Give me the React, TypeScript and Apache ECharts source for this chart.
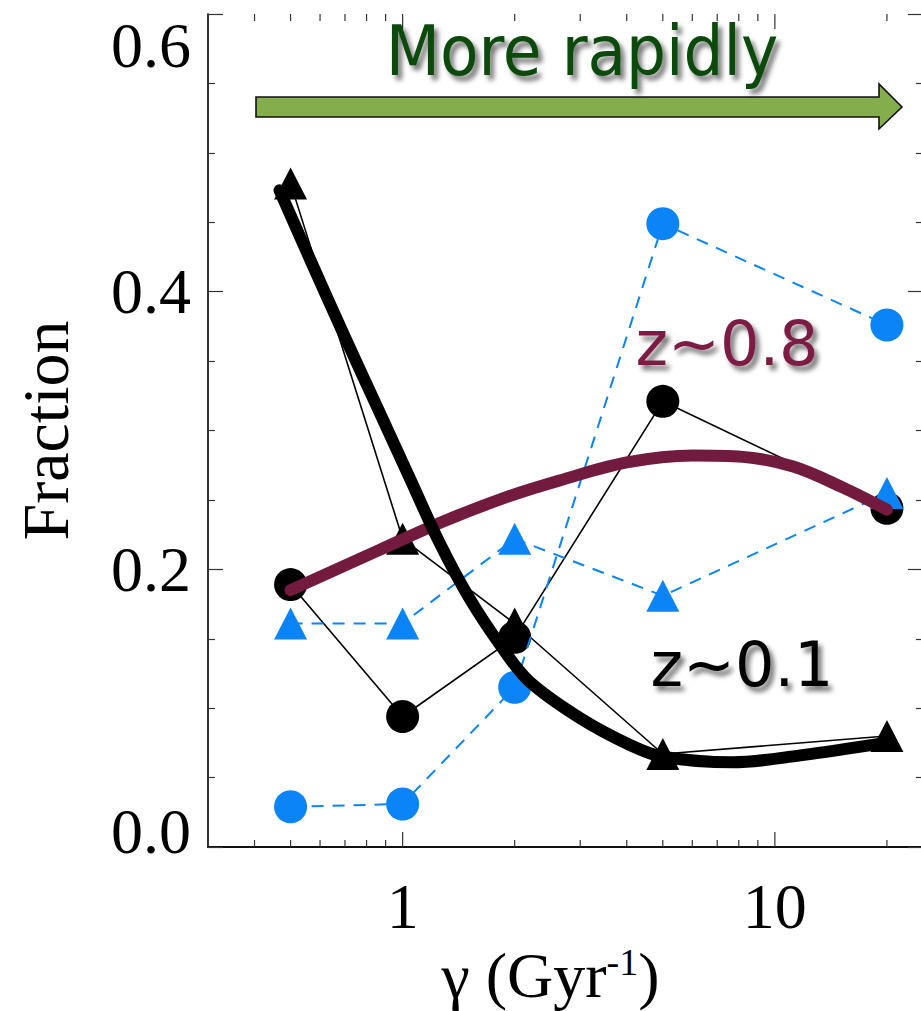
import React, { useEffect, useRef } from 'react';
import * as echarts from 'echarts';

// ---- data ----
const gamma = [0.5, 1, 2, 5, 20];
const blackCircles = [0.189, 0.094, 0.151, 0.321, 0.244];
const blackTriangles = [0.478, 0.222, 0.161, 0.067, 0.080];
const blueCircles = [0.029, 0.031, 0.115, 0.449, 0.376];
const blueTriangles = [0.161, 0.161, 0.222, 0.181, 0.255];

const lowZCurveGamma = [0.467, 0.569, 0.698, 0.857, 1.044, 1.257, 1.513, 1.857, 2.194, 2.99, 4.08, 5.0, 7.7, 11.7, 19.8];
const lowZCurveFrac = [0.473, 0.421, 0.368, 0.316, 0.266, 0.219, 0.179, 0.143, 0.119, 0.093, 0.0735, 0.065, 0.061, 0.066, 0.075];

const highZCurveGamma = [0.5, 0.867, 1.3, 1.9, 2.64, 4.0, 6.02, 8.2, 11.2, 15.2, 20];
const highZCurveFrac = [0.185, 0.214, 0.235, 0.252, 0.264, 0.277, 0.282, 0.281, 0.274, 0.259, 0.243];

const xTickValues = [0.4, 0.5, 0.6, 0.7, 0.8, 0.9, 1, 2, 3, 4, 5, 6, 7, 8, 9, 10, 20];
const xMajorTicks = [1, 10];
const xTickLabels = ['1', '10'];
const yTickLabels = ['0.0', '0.2', '0.4', '0.6'];

const X_MIN = 0.3;
const X_MAX = 25;
const Y_MIN = 0;
const Y_MAX = 0.6;

const SERIF = '"Liberation Serif", "Times New Roman", serif';
const SANS = '"DejaVu Sans", Verdana, sans-serif';

export default function App() {
  const ref = useRef<HTMLDivElement>(null);

  useEffect(() => {
    if (!ref.current) return;
    const chart = echarts.init(ref.current, null, { renderer: 'svg' });

    const pairs = (xs: number[], ys: number[]) => xs.map((x, i) => [x, ys[i]]);

    const tickColor = '#333';
    const axisLineStyle = { color: '#000', width: 1.6 };
    const shadow = {
      textShadowColor: 'rgba(0,0,0,0.55)',
      textShadowBlur: 5,
      textShadowOffsetX: 4,
      textShadowOffsetY: 5,
    };

    const option: any = {
      animation: false,
      backgroundColor: '#fff',
      grid: {
        left: 208,
        top: 14,
        width: 715,
        height: 833,
        containLabel: false,
        outerBoundsMode: 'none',
      },
      xAxis: [
        {
          type: 'log',
          logBase: 10,
          min: X_MIN,
          max: X_MAX,
          position: 'bottom',
          axisLine: { show: true, lineStyle: axisLineStyle },
          axisTick: { show: false },
          splitLine: { show: false },
          axisLabel: {
            show: true,
            margin: 27,
            fontSize: 64,
            fontFamily: SERIF,
            color: '#000',
            showMinLabel: false,
            showMaxLabel: false,
            formatter: (v: number) => {
              const i = xMajorTicks.findIndex((m) => Math.abs(m - v) / m < 1e-6);
              return i >= 0 ? xTickLabels[i] : '';
            },
          },
          name: '{g|γ (Gyr}{s|-1}{g|)}',
          nameLocation: 'middle',
          nameGap: 96,
          nameTextStyle: {
            padding: [0, 30, 0, 0],
            rich: {
              g: { fontSize: 64, fontFamily: SERIF, color: '#000' },
              s: { fontSize: 38, fontFamily: SERIF, color: '#000', verticalAlign: 'top', lineHeight: 38 },
            },
          },
        },
        {
          type: 'log',
          logBase: 10,
          min: X_MIN,
          max: X_MAX,
          position: 'top',
          axisLine: { show: true, lineStyle: axisLineStyle },
          axisTick: { show: false },
          splitLine: { show: false },
          axisLabel: { show: false },
        },
      ],
      yAxis: [
        {
          type: 'value',
          min: Y_MIN,
          max: Y_MAX,
          interval: 0.2,
          position: 'left',
          axisLine: { show: true, lineStyle: axisLineStyle },
          axisTick: { show: true, inside: true, length: 15, lineStyle: { color: tickColor, width: 1.2 } },
          minorTick: { show: true, splitNumber: 4, length: 7, lineStyle: { color: tickColor, width: 1.2 } },
          splitLine: { show: false },
          axisLabel: {
            margin: 17,
            formatter: (v: number) => {
              const i = Math.round(v / 0.2);
              const t = yTickLabels[i] ?? '';
              if (i === 0) return `{lo|${t}}`;
              if (i === yTickLabels.length - 1) return `{hi|${t}}`;
              return `{n|${t}}`;
            },
            rich: {
              n: { fontSize: 64, fontFamily: SERIF, color: '#000' },
              lo: { fontSize: 64, fontFamily: SERIF, color: '#000', padding: [0, 0, 32, 0] },
              hi: { fontSize: 64, fontFamily: SERIF, color: '#000', padding: [62, 0, 0, 0] },
            },
          },
          name: 'Fraction',
          nameLocation: 'middle',
          nameGap: 130,
          nameTextStyle: { fontSize: 66, fontFamily: SERIF, color: '#000' },
        },
        {
          type: 'value',
          min: Y_MIN,
          max: Y_MAX,
          interval: 0.2,
          position: 'right',
          axisLine: { show: true, lineStyle: axisLineStyle },
          axisTick: { show: true, inside: true, length: 15, lineStyle: { color: tickColor, width: 1.2 } },
          minorTick: { show: true, splitNumber: 4, length: 7, lineStyle: { color: tickColor, width: 1.2 } },
          splitLine: { show: false },
          axisLabel: { show: false },
        },
      ],
      series: [
        {
          type: 'custom',
          name: 'xticks',
          silent: true,
          xAxisIndex: 0,
          yAxisIndex: 0,
          encode: { x: 0 },
          data: xTickValues.map((v) => [v, xMajorTicks.includes(v) ? 1 : 0]),
          renderItem: (params: any, api: any) => {
            const v = api.value(0);
            const major = api.value(1) === 1;
            const len = major ? 15 : 7;
            const b = api.coord([v, Y_MIN]);
            const t = api.coord([v, Y_MAX]);
            const style = { stroke: tickColor, lineWidth: 1.2 };
            return {
              type: 'group',
              children: [
                { type: 'line', shape: { x1: b[0], y1: b[1], x2: b[0], y2: b[1] - len }, style },
                { type: 'line', shape: { x1: t[0], y1: t[1], x2: t[0], y2: t[1] + len }, style },
              ],
            };
          },
          z: 1,
        },
        {
          type: 'line',
          name: 'black circles',
          data: pairs(gamma, blackCircles),
          symbol: 'circle',
          symbolSize: 33,
          itemStyle: { color: '#000' },
          lineStyle: { color: '#000', width: 1.6 },
          z: 2,
        },
        {
          type: 'line',
          name: 'black triangles',
          data: pairs(gamma, blackTriangles),
          symbol: 'triangle',
          symbolSize: [33, 32],
          itemStyle: { color: '#000' },
          lineStyle: { color: '#000', width: 1.6 },
          z: 2,
        },
        {
          type: 'line',
          name: 'blue circles',
          data: pairs(gamma, blueCircles),
          symbol: 'circle',
          symbolSize: 33,
          itemStyle: { color: '#0a84f7' },
          lineStyle: { color: '#0a84f7', width: 2, type: [12, 9] },
          z: 3,
        },
        {
          type: 'line',
          name: 'blue triangles',
          data: pairs(gamma, blueTriangles),
          symbol: 'triangle',
          symbolSize: [33, 32],
          itemStyle: { color: '#0a84f7' },
          lineStyle: { color: '#0a84f7', width: 2, type: [12, 9] },
          z: 3,
        },
        {
          type: 'line',
          name: 'z~0.8 curve',
          data: pairs(highZCurveGamma, highZCurveFrac),
          showSymbol: false,
          symbol: 'none',
          smooth: 0.35,
          lineStyle: { color: '#731b3f', width: 12, cap: 'round', join: 'round' },
          z: 4,
        },
        {
          type: 'line',
          name: 'z~0.1 curve',
          data: pairs(lowZCurveGamma, lowZCurveFrac),
          showSymbol: false,
          symbol: 'none',
          smooth: 0.35,
          lineStyle: { color: '#000', width: 12, cap: 'round', join: 'round' },
          z: 5,
        },
      ],
      graphic: [
        {
          type: 'polygon',
          z: 50,
          shape: {
            points: [
              [256, 97],
              [879, 97],
              [879, 84],
              [902, 107],
              [879, 129],
              [879, 117],
              [256, 117],
            ],
          },
          style: { fill: '#84ae4c', stroke: '#111', lineWidth: 1.6 },
        },
        {
          type: 'text',
          z: 60,
          x: 582,
          y: 51,
          style: {
            text: 'More rapidly',
            fontSize: 70,
            fontFamily: '"DejaVu Sans Condensed", "DejaVu Sans", sans-serif',
            fill: '#0a4a0c',
            align: 'center',
            verticalAlign: 'middle',
            ...shadow,
          },
        },
        {
          type: 'text',
          z: 60,
          x: 727,
          y: 343,
          style: {
            text: 'z~0.8',
            fontSize: 62,
            fontFamily: SANS,
            fill: '#7b1d44',
            align: 'center',
            verticalAlign: 'middle',
            ...shadow,
          },
        },
        {
          type: 'text',
          z: 60,
          x: 742,
          y: 664,
          style: {
            text: 'z~0.1',
            fontSize: 62,
            fontFamily: SANS,
            fill: '#000',
            align: 'center',
            verticalAlign: 'middle',
            ...shadow,
          },
        },
      ],
    };

    chart.setOption(option);
    return () => chart.dispose();
  }, []);

  return (
    <div
      ref={ref}
      style={{ position: 'absolute', left: 0, top: 0, width: 921, height: 1011, background: '#fff' }}
    />
  );
}
